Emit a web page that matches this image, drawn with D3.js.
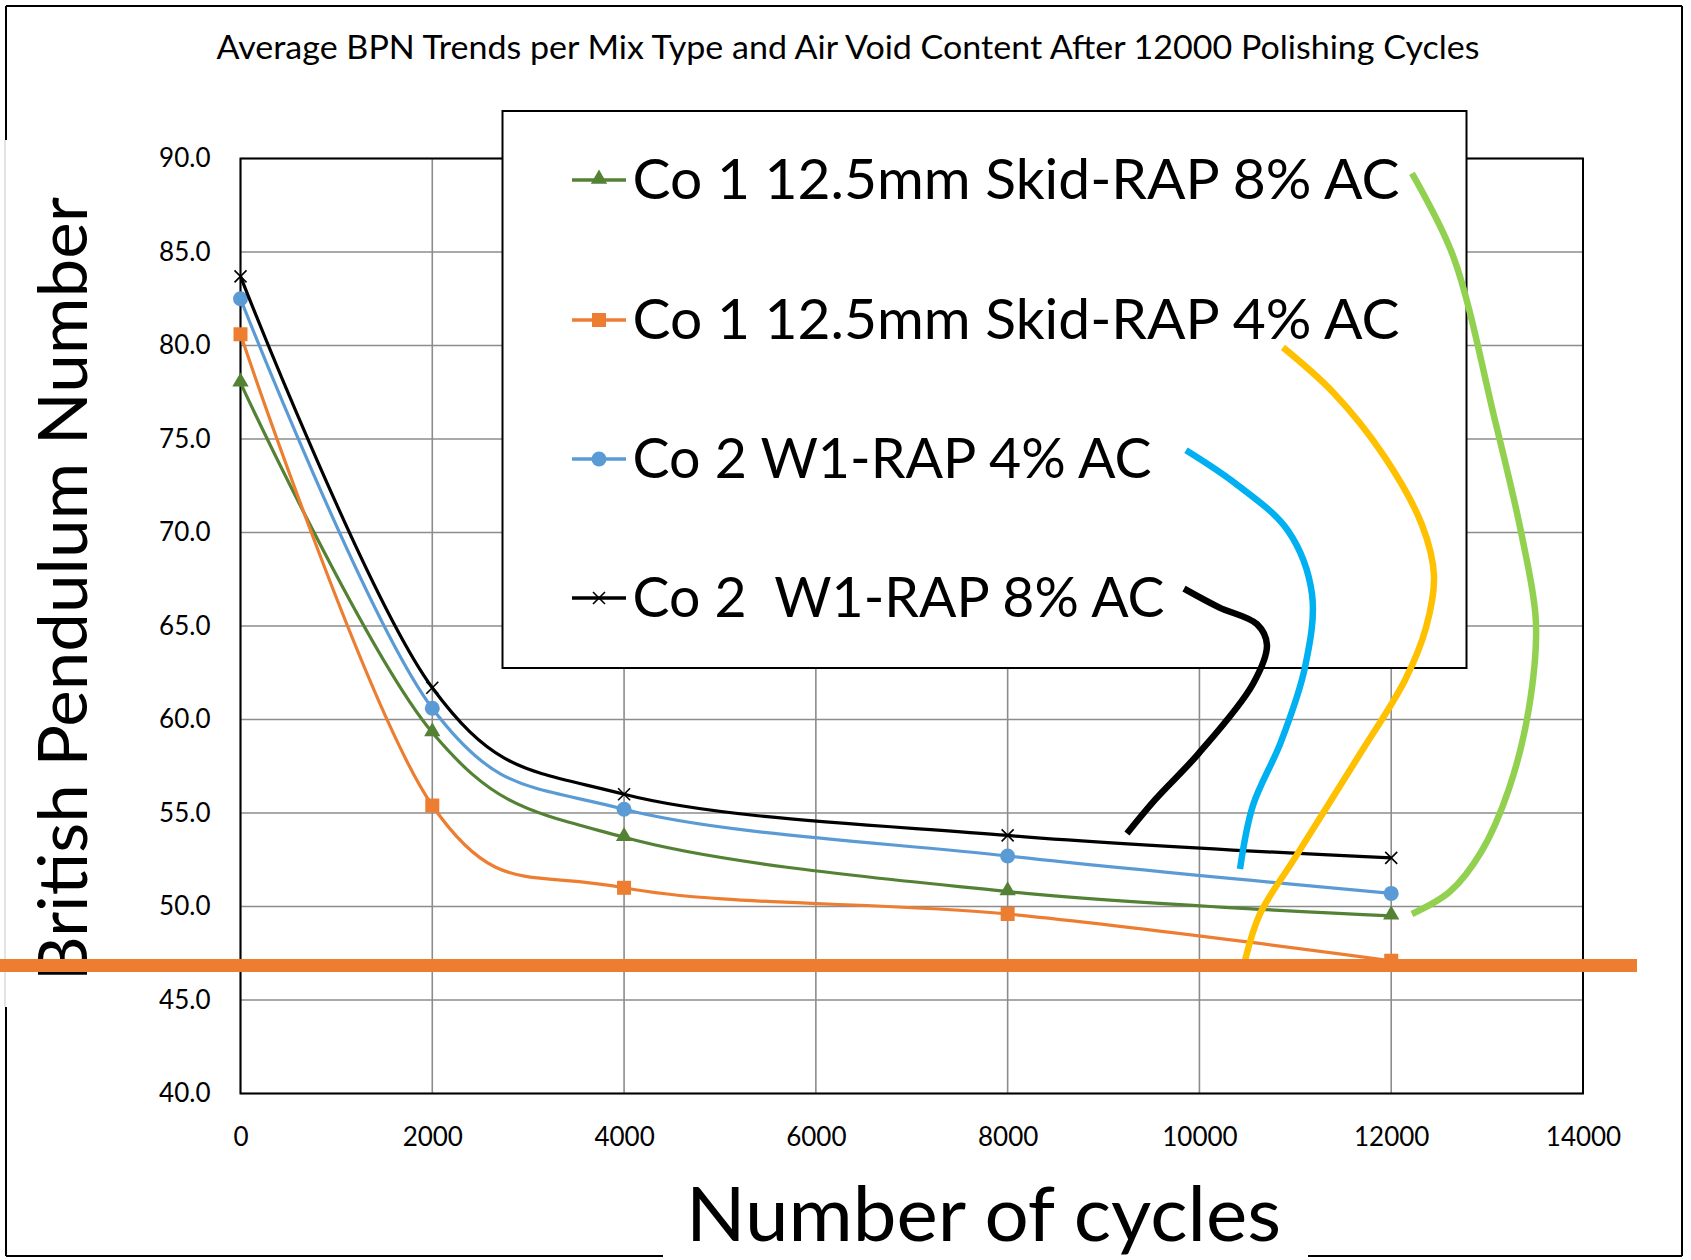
<!DOCTYPE html>
<html>
<head>
<meta charset="utf-8">
<script src="https://cdn.jsdelivr.net/npm/d3@7"></script>
<style>
  body { margin: 0; background: #fff; }
  svg { display: block; }
  text { font-family: Lato, "Open Sans", sans-serif; fill: #000; }
</style>
</head>
<body>
<div id="chart"></div>
<script>
// data
var cycles = [0, 2000, 4000, 8000, 12000];
var co1_8 = [78.0, 59.3, 53.7, 50.8, 49.5];   // green, triangle
var co1_4 = [80.6, 55.4, 51.0, 49.6, 47.1];   // orange, square
var co2_4 = [82.5, 60.6, 55.2, 52.7, 50.7];   // blue, circle
var co2_8 = [83.7, 61.7, 56.0, 53.8, 52.6];   // black, x

var seriesNames = ["Co 1 12.5mm Skid-RAP 8% AC", "Co 1 12.5mm Skid-RAP 4% AC", "Co 2 W1-RAP 4% AC", "Co 2  W1-RAP 8% AC"];
var seriesColors = ["#548235", "#ED7D31", "#5B9BD5", "#000000"];
var seriesMarkers = ["triangle", "square", "circle", "cross"];

var xTicks = [0, 2000, 4000, 6000, 8000, 10000, 12000, 14000];
var yTicks = [40, 45, 50, 55, 60, 65, 70, 75, 80, 85, 90];

var titleText = "Average BPN Trends per Mix Type and Air Void Content After 12000 Polishing Cycles";
var xTitle = "Number of cycles";
var yTitle = "British Pendulum Number";

// hand drawn annotations (in chart units: cycles, BPN)
var noteGreen  = [[12216,89.2],[12644,84.8],[13082,76.0],[13363,69.8],[13509,65.2],[13436,60.6],[13228,56.3],[12936,52.9],[12613,50.8],[12216,49.6]];
var noteYellow = [[10871,79.9],[11393,77.5],[11924,74.1],[12321,70.4],[12446,67.7],[12362,64.9],[12143,62.1],[11643,57.9],[10996,52.6],[10631,49.6],[10475,47.1]];
var noteCyan   = [[9860,74.4],[10381,72.6],[10923,70.1],[11174,66.7],[11101,62.8],[10850,58.8],[10558,55.4],[10423,52.0]];
var noteBlack  = [[9839,67.0],[10204,66.0],[10600,65.1],[10704,64.0],[10558,61.9],[9995,58.2],[9536,55.7],[9244,53.9]];
var noteColors = ["#92D050", "#FFC000", "#00B0F0", "#000000"];
var guideValue = 46.85;

var W = 1691, H = 1260;
var plot = {left: 240.5, top: 158.5, right: 1583, bottom: 1093.5};

var svg = d3.select("#chart").append("svg")
  .attr("width", W).attr("height", H);

var x = d3.scaleLinear().domain([0, 14000]).range([plot.left, plot.right]);
var y = d3.scaleLinear().domain([40, 90]).range([plot.bottom, plot.top]);

// outer frame (broken where the axis title boxes sit)
var frame = svg.append("g").attr("stroke", "#000").attr("stroke-width", 2);
[[6,6,1682,6],[1682,6,1682,1256],[6,1256,663,1256],[1308,1256,1682,1256],[6,6,6,140],[6,1007,6,1256]].forEach(function(s){
  frame.append("line").attr("x1", s[0]).attr("y1", s[1]).attr("x2", s[2]).attr("y2", s[3]);
});
svg.append("line").attr("x1", 5).attr("x2", 5).attr("y1", 140).attr("y2", 1007)
  .attr("stroke", "#c8c8c8").attr("stroke-width", 1);

// title
svg.append("text").attr("x", 848).attr("y", 59)
  .attr("text-anchor", "middle").attr("font-size", 32)
  .attr("textLength", 1263).attr("lengthAdjust", "spacingAndGlyphs")
  .text(titleText);

// gridlines
var grid = svg.append("g").attr("stroke", "#8c8c8c").attr("stroke-width", 1.6);
grid.selectAll(".gx").data(xTicks).enter().append("line")
  .attr("x1", d => x(d)).attr("x2", d => x(d))
  .attr("y1", plot.top).attr("y2", plot.bottom);
grid.selectAll(".gy").data(yTicks).enter().append("line")
  .attr("x1", plot.left).attr("x2", plot.right)
  .attr("y1", d => y(d)).attr("y2", d => y(d));

svg.append("rect")
  .attr("x", plot.left).attr("y", plot.top)
  .attr("width", plot.right - plot.left).attr("height", plot.bottom - plot.top)
  .attr("fill", "none").attr("stroke", "#000").attr("stroke-width", 2);

// axes
var yAxis = svg.append("g")
  .attr("transform", "translate(" + plot.left + ",0)")
  .call(d3.axisLeft(y).tickValues(yTicks).tickFormat(d3.format(".1f")).tickSize(0).tickPadding(30));
var xAxis = svg.append("g")
  .attr("transform", "translate(0," + plot.bottom + ")")
  .call(d3.axisBottom(x).tickValues(xTicks).tickFormat(d3.format("d")).tickSize(0).tickPadding(34));
[yAxis, xAxis].forEach(function(a){
  a.select(".domain").remove();
  a.selectAll("text").attr("font-size", 26).attr("font-family", "Lato, sans-serif").attr("fill", "#000");
});

// axis titles
svg.append("text")
  .attr("transform", "translate(87,589) rotate(-90)")
  .attr("text-anchor", "middle").attr("font-size", 68)
  .attr("textLength", 784).attr("lengthAdjust", "spacingAndGlyphs")
  .text(yTitle);
svg.append("text").attr("x", 983.5).attr("y", 1241)
  .attr("text-anchor", "middle").attr("font-size", 75)
  .attr("textLength", 595).attr("lengthAdjust", "spacingAndGlyphs")
  .text(xTitle);

// series
var allSeries = [co1_8, co1_4, co2_4, co2_8];
var line = d3.line()
  .x(d => x(d[0])).y(d => y(d[1]))
  .curve(d3.curveCardinal.tension(0));

function drawMarker(g, type, color, cx, cy){
  if(type == "triangle"){
    g.append("path").attr("d", d3.symbol().type(d3.symbolTriangle).size(115)())
      .attr("transform", "translate(" + cx + "," + (cy - 1) + ")").attr("fill", color);
  } else if(type == "square"){
    g.append("rect").attr("x", cx - 7).attr("y", cy - 7).attr("width", 14).attr("height", 14).attr("fill", color);
  } else if(type == "circle"){
    g.append("circle").attr("cx", cx).attr("cy", cy).attr("r", 7.5).attr("fill", color);
  } else {
    g.append("path").attr("d", "M-6,-6L6,6M-6,6L6,-6")
      .attr("transform", "translate(" + cx + "," + cy + ")")
      .attr("stroke", color).attr("stroke-width", 1.6).attr("fill", "none");
  }
}

allSeries.forEach(function(vals, i){
  var pts = cycles.map((c, j) => [c, vals[j]]);
  var g = svg.append("g");
  g.append("path").attr("d", line(pts))
    .attr("fill", "none").attr("stroke", seriesColors[i]).attr("stroke-width", 3.2);
  pts.forEach(function(p){
    drawMarker(g, seriesMarkers[i], seriesColors[i], x(p[0]), y(p[1]));
  });
});

// legend
var legend = svg.append("g");
legend.append("rect")
  .attr("x", 502.5).attr("y", 111).attr("width", 964).attr("height", 557)
  .attr("fill", "#fff").attr("stroke", "#000").attr("stroke-width", 2);

var rowBase = [199, 339, 478, 617];
var rowWidth = [767, 767, 519, 532];
seriesNames.forEach(function(name, i){
  var cy = rowBase[i] - 19;
  legend.append("line").attr("x1", 572).attr("x2", 626).attr("y1", cy).attr("y2", cy)
    .attr("stroke", seriesColors[i]).attr("stroke-width", 3.6);
  drawMarker(legend, seriesMarkers[i], seriesColors[i], 599, cy);
  legend.append("text")
    .attr("x", 632.6).attr("y", rowBase[i])
    .attr("font-size", 56).style("white-space", "pre")
    .attr("textLength", rowWidth[i]).attr("lengthAdjust", "spacingAndGlyphs")
    .text(name);
});

// annotations
var noteLine = d3.line()
  .x(d => x(d[0])).y(d => y(d[1]))
  .curve(d3.curveCatmullRom.alpha(0.5));
[noteGreen, noteYellow, noteCyan, noteBlack].forEach(function(pts, i){
  svg.append("path").attr("d", noteLine(pts))
    .attr("fill", "none").attr("stroke", noteColors[i])
    .attr("stroke-width", 6.5).attr("stroke-linecap", "butt");
});

svg.append("line")
  .attr("x1", 0).attr("x2", 1637)
  .attr("y1", y(guideValue)).attr("y2", y(guideValue))
  .attr("stroke", "#ED7D31").attr("stroke-width", 13);
</script>
</body>
</html>
